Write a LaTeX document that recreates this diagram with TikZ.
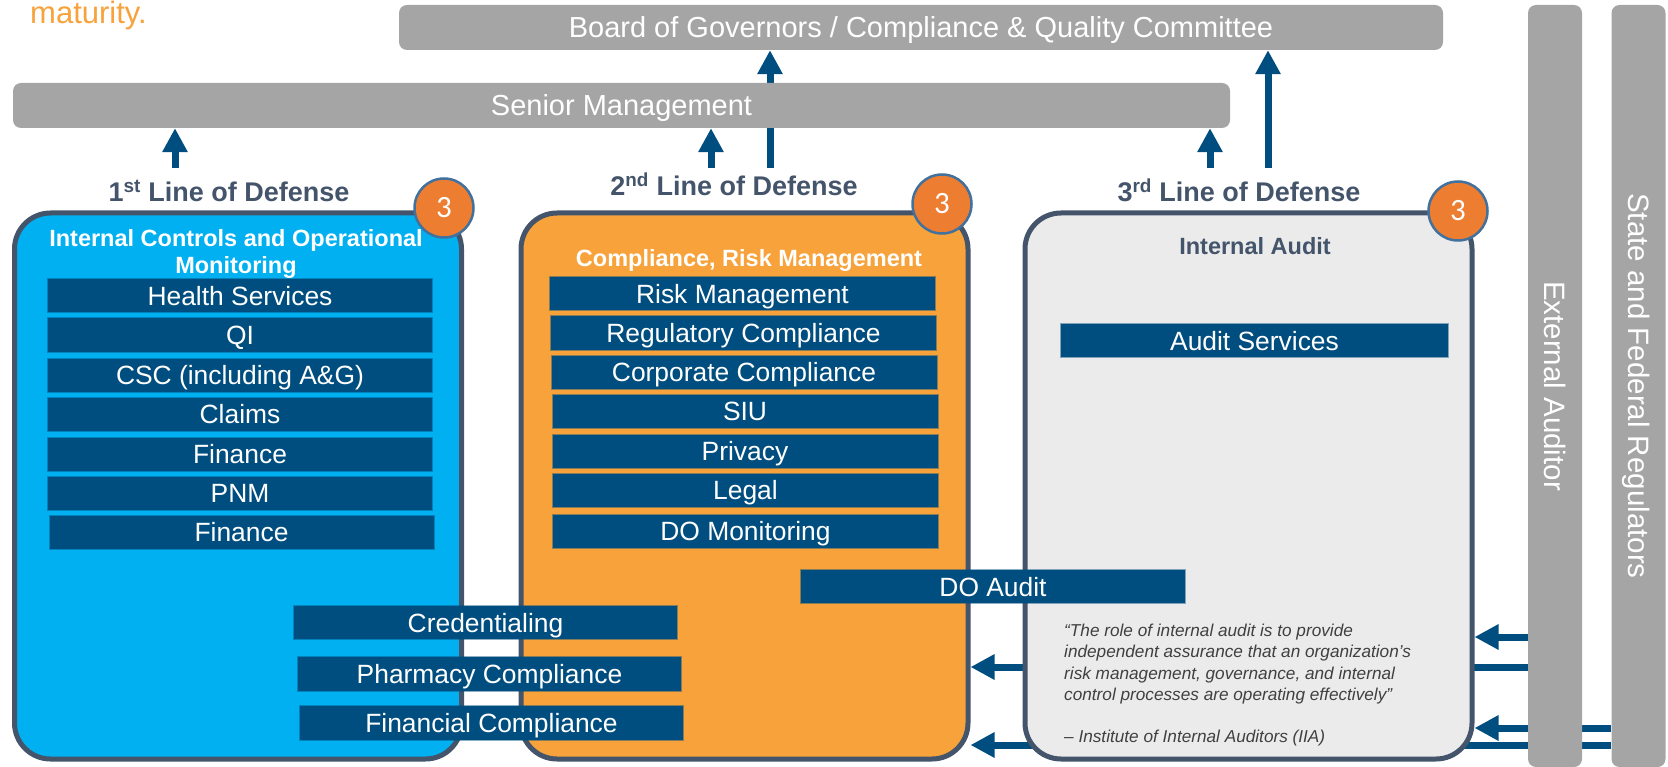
\documentclass[tikz,border=0pt]{standalone}
\usepackage{fontspec}
\setmainfont{Liberation Sans}
\newfontfamily\digitfont{Carlito}
\usetikzlibrary{arrows.meta}

\definecolor{bargray}{HTML}{A5A5A5}
\definecolor{slate}{HTML}{44546A}
\definecolor{itemblue}{HTML}{004E7F}
\definecolor{cyanfill}{HTML}{00B0F0}
\definecolor{orangefill}{HTML}{F7A23B}
\definecolor{paleGray}{HTML}{EBEBEB}
\definecolor{badgeorange}{HTML}{ED7D31}
\definecolor{badgeblue}{HTML}{41719C}
\definecolor{quotegray}{HTML}{404040}

\pgfdeclarelayer{behind}
\pgfsetlayers{behind,main}

\tikzset{
  hbar/.style={fill=bargray, rounded corners=8pt, inner sep=0pt, text=white,
    font=\fontsize{29}{33}\selectfont, text height=20.8pt, text depth=0pt},
  vbar/.style={fill=bargray, rounded corners=8pt, inner sep=0pt,
    minimum width=54, minimum height=762},
  vtext/.style={rotate=-90, text=white, inner sep=0pt,
    font=\fontsize{29.5}{33}\selectfont, text height=21pt, text depth=0pt},
  bigbox/.style={draw=slate, line width=5pt, rounded corners=36pt, inner sep=0pt,
    minimum width=447, minimum height=546},
  item/.style={fill=itemblue, text=white, inner sep=0pt,
    minimum width=384, minimum height=33,
    font=\fontsize{26.4}{30}\selectfont, text height=19pt, text depth=0pt,
    preaction={draw=itemblue, draw opacity=0.45, line width=2pt}},
  lod/.style={text=slate, inner sep=0pt, font=\bfseries\fontsize{27}{30}\selectfont,
    text height=19.3pt, text depth=0pt},
  boxhead/.style={text=white, inner sep=0pt, font=\bfseries\fontsize{23.5}{27}\selectfont,
    text height=16.8pt, text depth=0pt},
  badge/.style={circle, fill=badgeorange, draw=badgeblue, line width=2.5pt,
    minimum size=59, inner sep=0pt, text=white,
    font=\digitfont\fontsize{31}{33}\selectfont, text height=19.5pt, text depth=0pt},
  qt/.style={anchor=base west, inner sep=0pt, text=quotegray,
    font=\itshape\fontsize{17.2}{21}\selectfont},
  arr/.style={draw=itemblue, line width=7pt, -{Triangle[width=24pt,length=24pt]}},
}

\begin{document}
\begin{tikzpicture}[x=1pt,y=-1pt]
\useasboundingbox (0,0) rectangle (1668,767);

% heading fragment at the top left
\node[anchor=base west, inner sep=0pt, text=orangefill,
  font=\fontsize{31}{34}\selectfont] (mat) at (30,24) {maturity.};

% governance bars
\node[hbar, minimum width=1044, minimum height=45] (bd) at (921,27.5)
  {Board of Governors / Compliance \& Quality Committee};
\node[hbar, minimum width=1217, minimum height=45] (sm) at (621.5,105.5)
  {Senior Management};

% external parties
\node[vbar, label={[vtext]center:External Auditor}] (ext) at (1555,386) {};
\node[vbar, label={[vtext]center:State and Federal Regulators}] (st) at (1638.5,386) {};

% the three lines of defense
\node[bigbox, fill=cyanfill] (b1) at (238,486) {};
\node[bigbox, fill=orangefill] (b2) at (744.5,486) {};
\node[bigbox, fill=paleGray] (b3) at (1248.5,486) {};

\node[lod] (h1) at (229,192) {1\textsuperscript{st} Line of Defense};
\node[lod] (h2) at (734,186) {2\textsuperscript{nd} Line of Defense};
\node[lod] (h3) at (1239,192) {3\textsuperscript{rd} Line of Defense};

\node[badge] (c1) at (444,208) {3};
\node[badge] (c2) at (942,204) {3};
\node[badge] (c3) at (1458,211) {3};

% first line
\node[boxhead] (t1a) at (236,238) {Internal Controls and Operational};
\node[boxhead] (t1b) at (236,265) {Monitoring};
\node[item] (hs)   at (240,296)   {Health Services};
\node[item] (qi)   at (240,335)   {QI};
\node[item] (csc)  at (240,375)   {CSC (including A\&G)};
\node[item] (clm)  at (240,414)   {Claims};
\node[item] (fin1) at (240,454)   {Finance};
\node[item] (pnm)  at (240,493)   {PNM};
\node[item] (fin2) at (241.5,532) {Finance};

% second line
\node[boxhead] (t2) at (749,258) {Compliance, Risk Management};
\node[item, minimum width=385] (rm)  at (742.5,294) {Risk Management};
\node[item, minimum width=385] (rc)  at (743.5,333) {Regulatory Compliance};
\node[item, minimum width=385] (cc)  at (744,372)   {Corporate Compliance};
\node[item, minimum width=385] (siu) at (745,411)   {SIU};
\node[item, minimum width=385] (prv) at (745,451)   {Privacy};
\node[item, minimum width=385] (lgl) at (745.5,490) {Legal};
\node[item, minimum width=385] (dom) at (745.5,531) {DO Monitoring};

% third line
\node[boxhead, text=slate] (t3) at (1255,246) {Internal Audit};
\node[item, minimum width=387] (aus) at (1254.5,340.5) {Audit Services};
\node[item] (doa) at (993,586.5) {DO Audit};

% shared functions spanning the first two lines
\node[item, minimum width=383] (crd) at (485.5,622.5) {Credentialing};
\node[item, minimum width=383, minimum height=34] (phc) at (489.5,674) {Pharmacy Compliance};
\node[item, minimum width=383, minimum height=34] (fnc) at (491.5,723) {Financial Compliance};

% quotation
\node[qt] (q1) at (1064,636)   {“The role of internal audit is to provide};
\node[qt] (q2) at (1064,657.5) {independent assurance that an organization’s};
\node[qt] (q3) at (1064,679)   {risk management, governance, and internal};
\node[qt] (q4) at (1064,700.5) {control processes are operating effectively”};
\node[qt] (q5) at (1064,742)   {– Institute of Internal Auditors (IIA)};

% reporting arrows
\coordinate (u1) at (175,168);
\coordinate (u2) at (711,168);
\coordinate (u3) at (770,168);
\coordinate (u4) at (1210,168);
\coordinate (u5) at (1268,168);
\coordinate (r1) at (0,637);
\coordinate (r2) at (0,667);
\coordinate (r3) at (0,728);
\coordinate (r4) at (0,745);

\begin{pgfonlayer}{behind}
  \draw[arr] (u1) -- (u1 |- sm.south);
  \draw[arr] (u2) -- (u2 |- sm.south);
  \draw[arr] (u3) -- (u3 |- bd.south);
  \draw[arr] (u4) -- (u4 |- sm.south);
  \draw[arr] (u5) -- (u5 |- bd.south);
  \draw[arr] (ext.west |- r1) -- (b3.east |- r1);
  \draw[arr] (ext.west |- r2) -- (b2.east |- r2);
  \draw[arr] (st.west |- r3) -- (b3.east |- r3);
  \draw[arr] (st.west |- r4) -- (b2.east |- r4);
\end{pgfonlayer}
\end{tikzpicture}
\end{document}
